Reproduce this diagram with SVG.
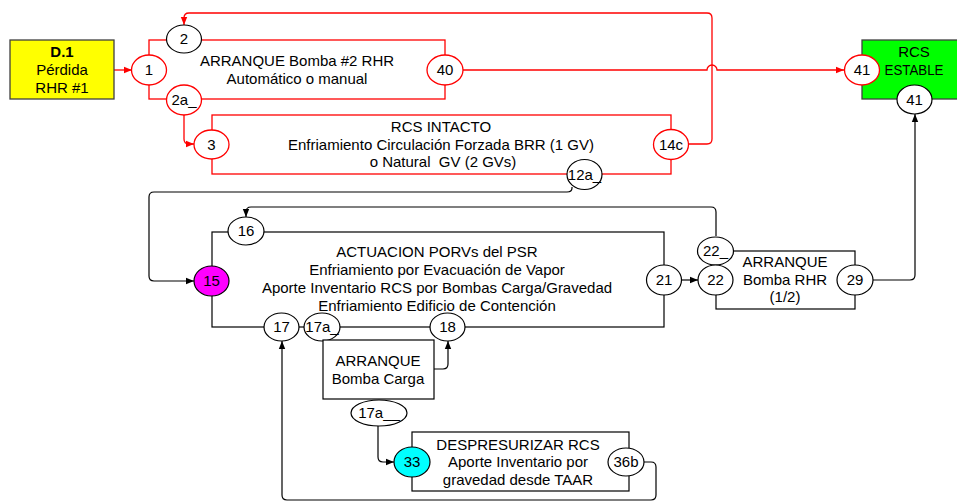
<svg xmlns="http://www.w3.org/2000/svg" width="957" height="502" viewBox="0 0 957 502">
<style>
text{font-family:"Liberation Sans",Arial,sans-serif;font-size:15px;fill:#000;text-anchor:middle}
.b{font-weight:bold}
.rb{fill:none;stroke:#FF0000;stroke-width:1.3}
.kb{fill:#fff;stroke:#000;stroke-width:1.2}
.re{fill:#fff;stroke:#FF0000;stroke-width:1.3}
.ke{fill:#fff;stroke:#000;stroke-width:1.2}
.rc{fill:none;stroke:#FF0000;stroke-width:1.3;marker-end:url(#ar)}
.kc{fill:none;stroke:#000;stroke-width:1.2;marker-end:url(#ak)}
</style>
<defs>
<marker id="ar" viewBox="0 0 10 10" refX="10" refY="5" markerWidth="8" markerHeight="8" markerUnits="userSpaceOnUse" orient="auto"><path d="M0,1 L10,5 L0,9 z" fill="#FF0000"/></marker>
<marker id="ak" viewBox="0 0 10 10" refX="10" refY="5" markerWidth="8" markerHeight="8" markerUnits="userSpaceOnUse" orient="auto"><path d="M0,1 L10,5 L0,9 z" fill="#000"/></marker>
</defs>
<rect width="957" height="502" fill="#fff"/>
<g id="connectors">
<path class="rc" d="M114,70 H132"/>
<path class="rc" d="M463,70 H707 A5,5 0 0 1 717,70 H844"/>
<path class="rc" d="M688,144 H707 Q712,144 712,139 V18 Q712,13 707,13 H189 Q184,13 184,18 V25"/>
<path class="rc" d="M184,115 V139 Q184,144 189,144 H194"/>
<path class="kc" d="M572,187 V188 Q572,192 567,192 H154 Q149,192 149,197 V276 Q149,281 154,281 H194"/>
<path class="kc" d="M716,236 V212 Q716,207 711,207 H251 Q246,207 246,212 V217"/>
<path class="kc" d="M682,280 H698"/>
<path class="kc" d="M873,280 H910 Q915,280 915,275 V114"/>
<path class="kc" d="M434,369 H443 Q448,369 448,364 V341"/>
<path class="kc" d="M378,426 V457 Q378,462 383,462 H394"/>
<path class="kc" d="M644,462 H651 Q656,462 656,467 V495 Q656,500 651,500 H287 Q282,500 282,495 V341"/>
</g>
<g id="n_d1">
<rect x="10" y="40" width="104" height="59" fill="#FFFF00" stroke="#404040" stroke-width="1.3"/>
<text x="62" y="57" class="b">D.1</text>
<text x="62" y="75">Pérdida</text>
<text x="62" y="93">RHR #1</text>
</g>
<g id="n_arranque2">
<rect class="rb" x="149" y="40" width="296" height="59"/>
<text x="297" y="66">ARRANQUE Bomba #2 RHR</text>
<text x="297" y="84">Automático o manual</text>
<ellipse class="re" cx="149" cy="70" rx="17.5" ry="15"/><text x="149" y="75">1</text>
<ellipse class="ke" cx="184" cy="39" rx="17.5" ry="14"/><text x="184" y="44">2</text>
<ellipse class="re" cx="184" cy="100" rx="17.5" ry="15"/><text x="184" y="105">2a_</text>
<ellipse class="re" cx="445" cy="70" rx="18" ry="15"/><text x="445" y="75">40</text>
</g>
<g id="n_intacto">
<rect class="rb" x="212" y="115" width="459" height="59"/>
<text x="441" y="132">RCS INTACTO</text>
<text x="441" y="150">Enfriamiento Circulación Forzada BRR (1 GV)</text>
<text x="443" y="167" style="white-space:pre">o Natural  GV (2 GVs)</text>
<ellipse class="re" cx="211.5" cy="144.5" rx="17.5" ry="14.5"/><text x="211.5" y="149.5">3</text>
<ellipse class="re" cx="671" cy="144.5" rx="17.5" ry="15"/><text x="671" y="149.5">14c</text>
<ellipse class="ke" cx="584.5" cy="174.5" rx="17.5" ry="15"/><text x="584.5" y="179.5">12a_</text>
</g>
<g id="n_estable">
<rect x="862" y="40" width="100" height="59" fill="#00FF00" stroke="#404040" stroke-width="1.3"/>
<text x="914" y="57">RCS</text>
<text x="914" y="75" textLength="59" lengthAdjust="spacingAndGlyphs">ESTABLE</text>
<ellipse class="re" cx="862" cy="70" rx="17.5" ry="15"/><text x="862" y="75">41</text>
<ellipse class="ke" cx="914.5" cy="99.5" rx="17.5" ry="14.5"/><text x="914.5" y="104.5">41</text>
</g>
<g id="n_actuacion">
<rect class="kb" x="212" y="232" width="452" height="95" fill="none"/>
<text x="437" y="257">ACTUACION PORVs del PSR</text>
<text x="437" y="275">Enfriamiento por Evacuación de Vapor</text>
<text x="437" y="293">Aporte Inventario RCS por Bombas Carga/Gravedad</text>
<text x="437" y="311">Enfriamiento Edificio de Contención</text>
<ellipse cx="211.5" cy="281" rx="17.5" ry="15" fill="#FF00FF" stroke="#000" stroke-width="1.2"/><text x="211.5" y="286">15</text>
<ellipse class="ke" cx="246" cy="231" rx="18" ry="14"/><text x="246" y="236">16</text>
<ellipse class="ke" cx="281.5" cy="327" rx="17.5" ry="14"/><text x="281.5" y="332">17</text>
<ellipse class="ke" cx="322" cy="327" rx="18" ry="14"/><text x="322" y="332">17a_</text>
<ellipse class="ke" cx="447.5" cy="327" rx="17.5" ry="14"/><text x="447.5" y="332">18</text>
<ellipse class="ke" cx="664" cy="280" rx="17.5" ry="15"/><text x="664" y="285">21</text>
</g>
<g id="n_bombacarga">
<rect class="kb" x="323" y="340" width="111" height="59"/>
<text x="378" y="366">ARRANQUE</text>
<text x="378" y="384">Bomba Carga</text>
<ellipse class="ke" cx="379" cy="413" rx="28" ry="13"/><text x="379" y="418">17a__</text>
</g>
<g id="n_despresurizar">
<rect class="kb" x="412" y="432" width="217" height="59"/>
<text x="518" y="450">DESPRESURIZAR RCS</text>
<text x="518" y="467">Aporte Inventario por</text>
<text x="518" y="485">gravedad desde TAAR</text>
<ellipse cx="412" cy="462" rx="18" ry="15" fill="#00FFFF" stroke="#000" stroke-width="1.2"/><text x="412" y="467">33</text>
<ellipse class="ke" cx="626" cy="462" rx="18" ry="14"/><text x="626" y="467">36b</text>
</g>
<g id="n_rhr">
<rect class="kb" x="716" y="251" width="139" height="58"/>
<text x="785" y="267">ARRANQUE</text>
<text x="785" y="285">Bomba RHR</text>
<text x="785" y="302">(1/2)</text>
<ellipse class="ke" cx="715.5" cy="251" rx="18" ry="14"/><text x="715.5" y="256">22_</text>
<ellipse class="ke" cx="715.5" cy="280" rx="17.5" ry="15"/><text x="715.5" y="285">22</text>
<ellipse class="ke" cx="855" cy="280" rx="18" ry="15"/><text x="855" y="285">29</text>
</g>
</svg>
